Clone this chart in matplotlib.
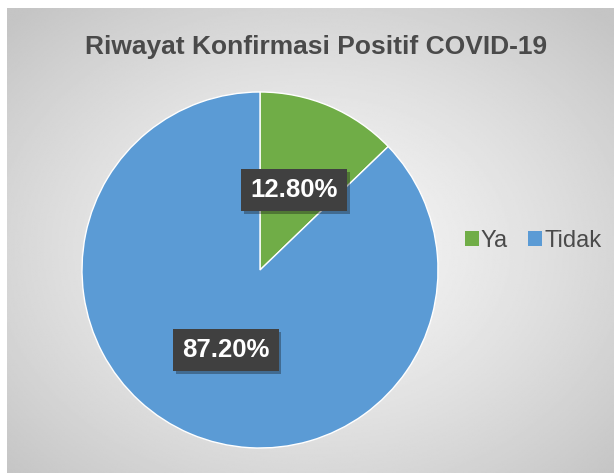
import matplotlib
matplotlib.use("Agg")
import matplotlib.pyplot as plt
import matplotlib.patheffects as pe
from matplotlib.patches import Rectangle
import numpy as np

plt.rcParams["font.family"] = ["Liberation Sans", "DejaVu Sans"]

TITLE = "Riwayat Konfirmasi Positif COVID-19"
labels = ["Ya", "Tidak"]
values = [12.80, 87.20]
colors = ["#70AD47", "#5B9BD5"]
TXT = "#4a4a4a"

W, H = 614, 473
fig = plt.figure(figsize=(W / 100, H / 100), dpi=100)
fig.patch.set_facecolor("white")

# radial grey background of the chart area
bg = fig.add_axes([7 / W, 0, 1 - 7 / W, 1 - 8 / H])
yy, xx = np.mgrid[0:1:300j, 0:1:400j]
r = np.sqrt(((xx - 0.5) / 0.75) ** 2 + ((yy - 0.52) / 0.75) ** 2)
shade = np.clip(0.97 - 0.22 * r ** 1.3, 0.77, 0.97)
bg.imshow(shade, cmap="gray", vmin=0, vmax=1, aspect="auto", extent=[0, 1, 0, 1])
bg.axis("off")

# pie: centre (260, 270) px from top, radius 178 px
cx, cy, rad = 260, H - 270, 178
ax = fig.add_axes([(cx - rad) / W, (cy - rad) / H, 2 * rad / W, 2 * rad / H])
wedges, texts, autotexts = ax.pie(
    values, colors=colors, startangle=90, counterclock=False,
    autopct="%.2f%%", pctdistance=0.49,
    wedgeprops=dict(edgecolor="white", linewidth=1),
    textprops=dict(color="white", fontsize=18.5, fontweight="bold"))
ax.set_xlim(-1, 1)
ax.set_ylim(-1, 1)
ax.set_aspect("equal")
ax.axis("off")

for t in autotexts:
    t.set_bbox(dict(boxstyle="square,pad=0.35", facecolor="#404040", edgecolor="none"))
    t.get_bbox_patch().set_path_effects(
        [pe.SimplePatchShadow(offset=(2, -2), alpha=0.35), pe.Normal()])

fig.text(316 / W, 1 - 47 / H, TITLE, ha="center", va="center",
         fontsize=19, fontweight="bold", color=TXT)

handles = [Rectangle((0, 0), 1, 1, facecolor=c, edgecolor="none") for c in colors]
fig.legend(handles, labels, loc="center", bbox_to_anchor=(533 / W, 1 - 241 / H),
           ncol=2, frameon=False, fontsize=17, labelcolor=TXT,
           handlelength=0.6, handleheight=0.6, handletextpad=0.08,
           columnspacing=0.85, borderpad=0, borderaxespad=0)

fig.savefig("out.png", dpi=100, facecolor="white")
